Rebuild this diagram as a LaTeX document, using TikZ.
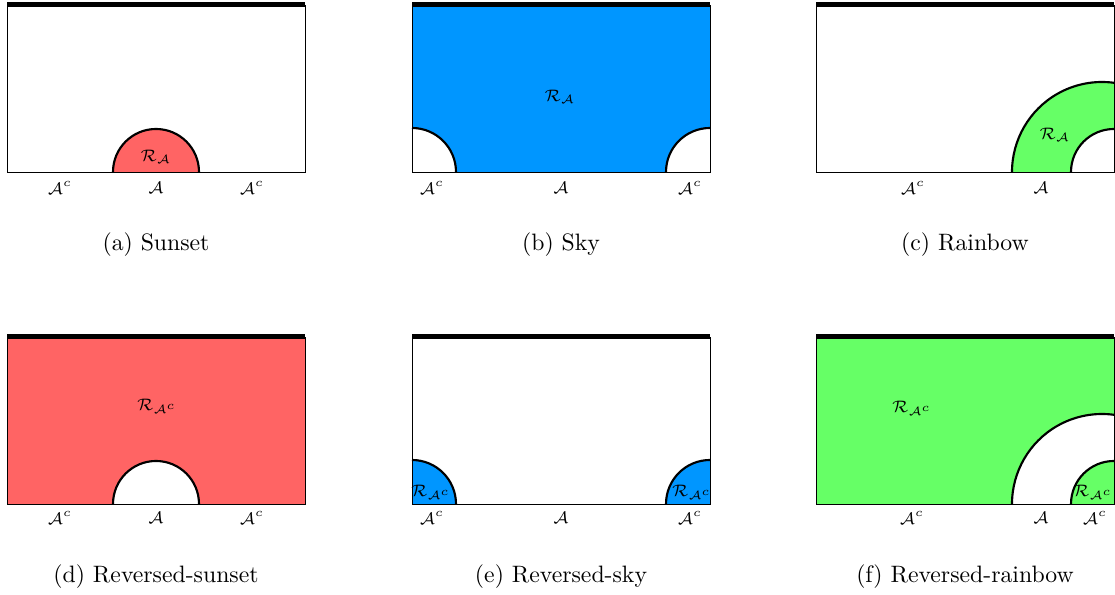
\documentclass[tikz,border=0pt]{standalone}
\usepackage{amsmath}
\usetikzlibrary{calc}
\definecolor{sunsetred}{HTML}{FF6464}
\definecolor{skyblue}{HTML}{0096FF}
\definecolor{rainbowgreen}{HTML}{66FF66}

\begin{document}
\begin{tikzpicture}[x=0.4213pt, y=0.4213pt,
  frame/.style={line width=0.4pt},
  rim/.style={line width=0.9pt},
  topbar/.style={line width=2.1pt},
  lab/.style={font=\scriptsize, inner sep=0pt},
  subcap/.style={font=\normalsize, inner sep=0pt}]
  \useasboundingbox (0,0) rectangle (1115,595);

  % (a) sunset
  \begin{scope}[shift={(7,423)}]
    \fill[sunsetred] (106,0) arc (180:0:43) -- cycle;
    \draw[frame] (0,0) rectangle (298,167);
    \draw[rim] (106,0) arc (180:0:43);
    \draw[topbar] (0,167) -- (298,167);
    \node[lab] (aR) at (149,15) {$\mathcal{R}_{\mathcal{A}}$};
    \node[lab] (aL) at (53,-16) {$\mathcal{A}^c$};
    \node[lab] (aM) at (149,-16) {$\mathcal{A}$};
    \node[lab] (aN) at (245,-16) {$\mathcal{A}^c$};
    \node[subcap] (acap) at (149,-73) {(a) Sunset};
  \end{scope}

  % (b) sky
  \begin{scope}[shift={(412,423)}]
    \fill[skyblue] (0,0) rectangle (298,167);
    \fill[white] (0,44) arc (90:0:44) -- (0,0) -- cycle;
    \fill[white] (254,0) arc (180:90:44) -- (298,0) -- cycle;
    \draw[frame] (0,0) rectangle (298,167);
    \draw[rim] (0,44) arc (90:0:44);
    \draw[rim] (254,0) arc (180:90:44);
    \draw[topbar] (0,167) -- (298,167);
    \node[lab] (bR) at (148,75) {$\mathcal{R}_{\mathcal{A}}$};
    \node[lab] (bL) at (20,-16) {$\mathcal{A}^c$};
    \node[lab] (bM) at (149,-16) {$\mathcal{A}$};
    \node[lab] (bN) at (278,-16) {$\mathcal{A}^c$};
    \node[subcap] (bcap) at (149,-73) {(b) Sky};
  \end{scope}

  % (c) rainbow
  \begin{scope}[shift={(816,423)}]
    \fill[rainbowgreen] (196,0) arc (180:82.34:90) -- (298,43) arc (90:180:43) -- cycle;
    \draw[frame] (0,0) rectangle (298,167);
    \draw[rim] (196,0) arc (180:82.34:90);
    \draw[rim] (298,43) arc (90:180:43);
    \draw[topbar] (0,167) -- (298,167);
    \node[lab] (cR) at (239,37) {$\mathcal{R}_{\mathcal{A}}$};
    \node[lab] (cL) at (97,-16) {$\mathcal{A}^c$};
    \node[lab] (cM) at (225,-16) {$\mathcal{A}$};
    \node[subcap] (ccap) at (149,-73) {(c) Rainbow};
  \end{scope}

  % (d) reversed sunset
  \begin{scope}[shift={(7,91)}]
    \fill[sunsetred] (0,0) rectangle (298,167);
    \fill[white] (106,0) arc (180:0:43) -- cycle;
    \draw[frame] (0,0) rectangle (298,167);
    \draw[rim] (106,0) arc (180:0:43);
    \draw[topbar] (0,167) -- (298,167);
    \node[lab] (dR) at (150,98) {$\mathcal{R}_{\mathcal{A}^c}$};
    \node[lab] (dL) at (53,-14) {$\mathcal{A}^c$};
    \node[lab] (dM) at (149,-14) {$\mathcal{A}$};
    \node[lab] (dN) at (245,-14) {$\mathcal{A}^c$};
    \node[subcap] (dcap) at (149,-73) {(d) Reversed-sunset};
  \end{scope}

  % (e) reversed sky
  \begin{scope}[shift={(412,91)}]
    \fill[skyblue] (0,44) arc (90:0:44) -- (0,0) -- cycle;
    \fill[skyblue] (254,0) arc (180:90:44) -- (298,0) -- cycle;
    \draw[frame] (0,0) rectangle (298,167);
    \draw[rim] (0,44) arc (90:0:44);
    \draw[rim] (254,0) arc (180:90:44);
    \draw[topbar] (0,167) -- (298,167);
    \node[lab] (eR1) at (19,12) {$\mathcal{R}_{\mathcal{A}^c}$};
    \node[lab] (eR2) at (280,12) {$\mathcal{R}_{\mathcal{A}^c}$};
    \node[lab] (eL) at (20,-14) {$\mathcal{A}^c$};
    \node[lab] (eM) at (149,-14) {$\mathcal{A}$};
    \node[lab] (eN) at (278,-14) {$\mathcal{A}^c$};
    \node[subcap] (ecap) at (149,-73) {(e) Reversed-sky};
  \end{scope}

  % (f) reversed rainbow
  \begin{scope}[shift={(816,91)}]
    \fill[rainbowgreen] (0,0) rectangle (298,167);
    \fill[white] (196,0) arc (180:82.34:90) -- (298,43) arc (90:180:43) -- cycle;
    \draw[frame] (0,0) rectangle (298,167);
    \draw[rim] (196,0) arc (180:82.34:90);
    \draw[rim] (298,43) arc (90:180:43);
    \draw[topbar] (0,167) -- (298,167);
    \node[lab] (fR1) at (96,96) {$\mathcal{R}_{\mathcal{A}^c}$};
    \node[lab] (fR2) at (277,12) {$\mathcal{R}_{\mathcal{A}^c}$};
    \node[lab] (fL) at (96,-14) {$\mathcal{A}^c$};
    \node[lab] (fM) at (225,-14) {$\mathcal{A}$};
    \node[lab] (fN) at (279,-14) {$\mathcal{A}^c$};
    \node[subcap] (fcap) at (149,-73) {(f) Reversed-rainbow};
  \end{scope}
\end{tikzpicture}
\end{document}
